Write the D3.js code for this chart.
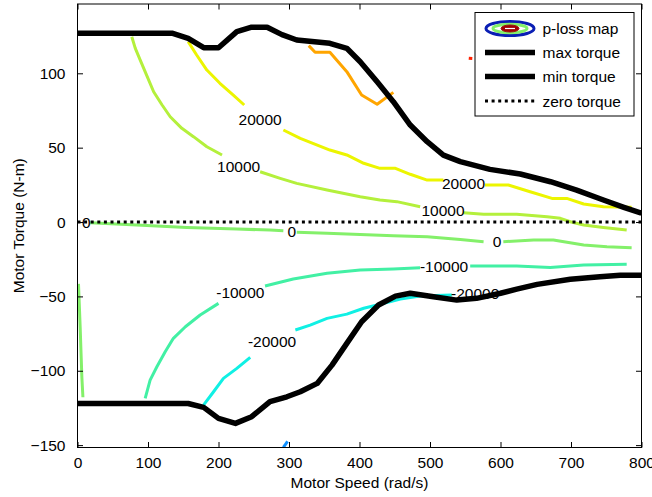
<!DOCTYPE html>
<html>
<head>
<meta charset="utf-8">
<script src="https://cdn.jsdelivr.net/npm/d3@7"></script>
<style>
html,body{margin:0;padding:0;background:#fff;}
svg{display:block;}
text{font-family:"Liberation Sans",Arial,sans-serif;}
</style>
</head>
<body>
<svg id="chart" width="652" height="497"></svg>
<script>
// ---------- data ----------
const speedTicks = [0, 100, 200, 300, 400, 500, 600, 700, 800];
const torqueTicks = [-150, -100, -50, 0, 50, 100];

const maxTorqueSpeed = [0, 134, 157, 179, 200, 226, 247, 269, 290, 311, 358, 382, 401, 425, 448, 472, 496, 519, 543, 585, 628, 671, 708, 746, 775, 800];
const maxTorqueValue = [127, 127, 123.5, 117.2, 117.2, 128, 131, 131, 126, 122.4, 120.2, 116.8, 107.8, 94.3, 80.9, 65.2, 54, 45, 40.6, 35.4, 32.3, 27.1, 21.5, 14.8, 9.9, 5.9];

const minTorqueSpeed = [0, 157, 179, 200, 224, 247, 273, 297, 316, 340, 361, 382, 403, 427, 451, 472, 505, 538, 566, 600, 623, 652, 699, 741, 770, 800];
const minTorqueValue = [-122, -122, -124.6, -132, -135.4, -130.9, -120.8, -117.5, -114.1, -108.5, -96.2, -81.6, -67, -55.8, -49.8, -47.9, -50.2, -52.5, -51.3, -47.9, -45.1, -41.9, -38.5, -36.8, -35.8, -35.8];

const zeroTorqueSpeed = [0, 800];
const zeroTorqueValue = [0, 0];

// p-loss contour segments: [speed, torque] pairs, split where labels sit
const contourLevels = [40000, 30000, 20000, 10000, 0, -10000, -20000, -30000];
const contour40000 = [[[555, 110.2], [560, 110]]];
const contour30000 = [[[328, 118.6], [337, 114.1], [358, 114.1], [382, 101.1], [403, 85.4], [425, 79.2], [448, 87.2]]];
const contour20000 = [
  [[157, 121.3], [169, 112.3], [183.5, 102.2], [202, 93.3], [221, 85.4], [236.5, 78.7]],
  [[292, 61.9], [316, 56.3], [358, 48.4], [382, 45.1], [406, 39.5], [429, 36.1], [451, 36.1], [472, 32.1], [496, 28.2], [519, 28.2]],
  [[578, 24.9], [611, 24.9], [642, 20.4], [673, 15.9], [694, 15.9], [718, 12.1], [746, 10.3], [786, 9.9]]
];
const contour10000 = [
  [[77, 124.6], [82, 116.8], [89, 108.9], [98, 98.8], [108, 87.6], [120, 78.7], [131.5, 70.8], [148, 63], [164.5, 57.4], [183.5, 50.6], [205, 45.1]],
  [[259, 33.8], [287.5, 29.4], [311, 26], [354, 21.5], [401, 17], [429, 14.8], [453, 13.7], [486, 10.3]],
  [[547.5, 6.3], [576, 5.2], [623, 5.2], [666, 3.6], [685, 2.5], [699, 0.2], [718, -2], [746, -3.6], [779, -5.4]]
];
const contour0 = [
  [[18, -0.5], [84, -2], [155, -3.6], [226, -4.7], [273, -5.4], [292, -5.9]],
  [[311, -6.9], [354, -7.6], [401, -8.3], [448, -9.2], [496, -9.9], [543, -11.8], [576, -13.2]],
  [[604, -13.2], [647, -12.1], [675, -12.1], [718, -15.5], [751, -16.6], [786, -17.3]],
  [[1.4, -41.6], [2.5, -55], [3.8, -70.8], [5, -88], [6.2, -104.4], [7.7, -117.8]]
];
const contourMinus10000 = [
  [[96, -118.6], [103, -106.3], [112.6, -97.3], [124.4, -87.2], [136, -78.2], [153, -70.4], [174, -62.5], [200, -54.7]],
  [[266, -43], [306, -38.3], [354, -34.5], [401, -32.3], [448, -31.6], [486, -30.7]],
  [[557, -29.6], [623, -29.6], [670.5, -30.5], [718, -28.9], [779, -28.4]]
];
const contourMinus20000 = [
  [[178.7, -123.1], [193, -114.1], [207, -105.1], [226, -98.4], [245, -91]],
  [[309, -72.6], [330, -69.3], [354, -64.8], [382, -61.9], [406, -58], [425, -55.8], [458, -51.8], [486, -49.8], [531, -49.1]]
];
const contourMinus30000 = [[[292, -151.5], [298, -147.5]]];

const contourLabels = [
  {level: 20000, speed: 259, torque: 69.1},
  {level: 20000, speed: 547.5, torque: 26},
  {level: 10000, speed: 228.5, torque: 37.2},
  {level: 10000, speed: 518.5, torque: 7.6},
  {level: 0, speed: 12.5, torque: 0},
  {level: 0, speed: 304, torque: -6.3},
  {level: 0, speed: 595, torque: -13.2},
  {level: -10000, speed: 231, torque: -47.5},
  {level: -10000, speed: 520, torque: -29.6},
  {level: -20000, speed: 276, torque: -80.5},
  {level: -20000, speed: 564, torque: -48}
];

const legendLabels = ["p-loss map", "max torque", "min torque", "zero torque"];
const xLabel = "Motor Speed (rad/s)";
const yLabel = "Motor Torque (N-m)";

// ---------- styles ----------
const levelColor = {
  "40000": "#ff2000",
  "30000": "#ffa500",
  "20000": "#ecf500",
  "10000": "#b4f03c",
  "0": "#84f06a",
  "-10000": "#42f0a4",
  "-20000": "#10f0e4",
  "-30000": "#1090ff"
};
const contourSets = [
  [40000, contour40000], [30000, contour30000], [20000, contour20000], [10000, contour10000],
  [0, contour0], [-10000, contourMinus10000], [-20000, contourMinus20000], [-30000, contourMinus30000]
];

// ---------- layout ----------
const svg = d3.select("#chart");
const pL = 77.5, pR = 641.5, pT = 4, pB = 447.5;
const x = d3.scaleLinear().domain([0, 800]).range([pL, pR]);
const y = d3.scaleLinear().domain([-151.6, 146.6]).range([pB, pT]);
const fontSize = 15.5;

svg.append("defs").append("clipPath").attr("id", "clip")
  .append("rect").attr("x", pL).attr("y", pT).attr("width", pR - pL).attr("height", pB - pT);

const plot = svg.append("g").attr("clip-path", "url(#clip)");
const line = d3.line().x(d => x(d[0])).y(d => y(d[1]));

// contours
contourSets.forEach(([lvl, segs]) => {
  segs.forEach(seg => {
    plot.append("path").attr("d", line(seg))
      .attr("fill", "none").attr("stroke", levelColor[lvl])
      .attr("stroke-width", 3).attr("stroke-linejoin", "round");
  });
});

// contour labels
plot.selectAll("text.clabel").data(contourLabels).enter().append("text")
  .attr("class", "clabel")
  .attr("x", d => x(d.speed)).attr("y", d => y(d.torque))
  .attr("text-anchor", "middle").attr("dominant-baseline", "central")
  .attr("font-size", fontSize).attr("fill", "#000")
  .text(d => d.level);

// torque limits
const maxPts = maxTorqueSpeed.map((s, i) => [s, maxTorqueValue[i]]);
const minPts = minTorqueSpeed.map((s, i) => [s, minTorqueValue[i]]);
const zeroPts = zeroTorqueSpeed.map((s, i) => [s, zeroTorqueValue[i]]);
plot.append("path").attr("d", line(maxPts)).attr("fill", "none")
  .attr("stroke", "#000").attr("stroke-width", 5.5).attr("stroke-linejoin", "round");
plot.append("path").attr("d", line(minPts)).attr("fill", "none")
  .attr("stroke", "#000").attr("stroke-width", 5.5).attr("stroke-linejoin", "round");
plot.append("path").attr("d", line(zeroPts)).attr("fill", "none")
  .attr("stroke", "#000").attr("stroke-width", 3).attr("stroke-dasharray", "3,3.6");

// axes box
svg.append("rect").attr("x", pL).attr("y", pT).attr("width", pR - pL).attr("height", pB - pT)
  .attr("fill", "none").attr("stroke", "#000").attr("stroke-width", 1);

const tickLen = 5.5;
const axB = d3.axisBottom(x).tickValues(speedTicks).tickSize(-tickLen).tickPadding(9).tickFormat(d3.format("d"));
const axT = d3.axisTop(x).tickValues(speedTicks).tickSize(-tickLen).tickFormat("");
const axL = d3.axisLeft(y).tickValues(torqueTicks).tickSize(-tickLen).tickPadding(12).tickFormat(d3.format("d"));
const axR = d3.axisRight(y).tickValues(torqueTicks).tickSize(-tickLen).tickFormat("");

function styleAxis(g) {
  g.select(".domain").remove();
  g.selectAll("line").attr("stroke", "#000");
  g.selectAll("text").attr("font-size", fontSize).attr("fill", "#000")
    .attr("font-family", '"Liberation Sans", Arial, sans-serif');
}
svg.append("g").attr("transform", `translate(0,${pB})`).call(axB).call(styleAxis);
svg.append("g").attr("transform", `translate(0,${pT})`).call(axT).call(styleAxis);
svg.append("g").attr("transform", `translate(${pL},0)`).call(axL).call(styleAxis);
svg.append("g").attr("transform", `translate(${pR},0)`).call(axR).call(styleAxis);

// axis titles
svg.append("text").attr("x", (pL + pR) / 2).attr("y", 488)
  .attr("text-anchor", "middle").attr("font-size", fontSize).text(xLabel);
svg.append("text").attr("transform", `translate(24,${(pT + pB) / 2}) rotate(-90)`)
  .attr("text-anchor", "middle").attr("font-size", fontSize).text(yLabel);

// legend
const lg = svg.append("g");
const lgX = 475, lgY = 12.5, lgW = 159, lgH = 103.5;
lg.append("rect").attr("x", lgX).attr("y", lgY).attr("width", lgW).attr("height", lgH)
  .attr("fill", "#fff").attr("stroke", "#000").attr("stroke-width", 1);
const rowY = [28.5, 52.5, 76.5, 101];
const sx0 = 485, sx1 = 535, tx = 542.5;
// p-loss icon
const icx = (sx0 + sx1) / 2, icy = rowY[0];
lg.append("ellipse").attr("cx", icx).attr("cy", icy).attr("rx", 24).attr("ry", 7)
  .attr("fill", "#fff").attr("stroke", "#0a1eb4").attr("stroke-width", 3);
lg.append("ellipse").attr("cx", icx).attr("cy", icy).attr("rx", 17).attr("ry", 4.2)
  .attr("fill", "none").attr("stroke", "#84f06a").attr("stroke-width", 3);
lg.append("ellipse").attr("cx", icx).attr("cy", icy).attr("rx", 9).attr("ry", 3.5)
  .attr("fill", "#a00000").attr("stroke", "#a01010").attr("stroke-width", 1);
lg.append("line").attr("x1", icx - 5).attr("x2", icx + 5).attr("y1", icy).attr("y2", icy)
  .attr("stroke", "#fff").attr("stroke-width", 1.2);
lg.append("line").attr("x1", sx0).attr("x2", sx1).attr("y1", rowY[1]).attr("y2", rowY[1])
  .attr("stroke", "#000").attr("stroke-width", 5.5);
lg.append("line").attr("x1", sx0).attr("x2", sx1).attr("y1", rowY[2]).attr("y2", rowY[2])
  .attr("stroke", "#000").attr("stroke-width", 5.5);
lg.append("line").attr("x1", sx0).attr("x2", sx1).attr("y1", rowY[3]).attr("y2", rowY[3])
  .attr("stroke", "#000").attr("stroke-width", 3).attr("stroke-dasharray", "3,3.6");
lg.selectAll("text.lt").data(legendLabels).enter().append("text").attr("class", "lt")
  .attr("x", tx).attr("y", (d, i) => rowY[i]).attr("dominant-baseline", "central")
  .attr("font-size", fontSize).attr("fill", "#000").text(d => d);
</script>
</body>
</html>
